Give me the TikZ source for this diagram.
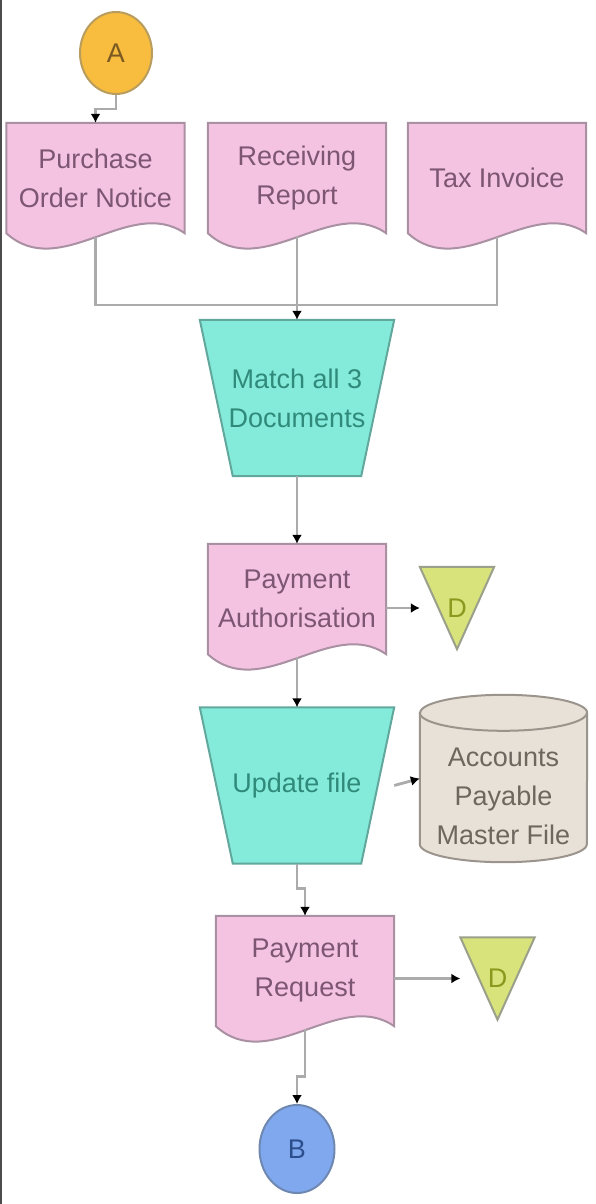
\documentclass[tikz,border=0pt]{standalone}
\usepackage{fontspec}
\setmainfont{Liberation Sans}
\usetikzlibrary{shapes.geometric,arrows.meta,backgrounds}

\definecolor{docfill}{HTML}{F5C3E2}
\definecolor{docdraw}{HTML}{A990A2}
\definecolor{doctext}{HTML}{7C5672}
\definecolor{procfill}{HTML}{84EBDB}
\definecolor{procdraw}{HTML}{62A79C}
\definecolor{proctext}{HTML}{2F8A7A}
\definecolor{mergefill}{HTML}{D8E37C}
\definecolor{mergedraw}{HTML}{9AA08A}
\definecolor{mergetext}{HTML}{8A9A1E}
\definecolor{storefill}{HTML}{E8E1D7}
\definecolor{storedraw}{HTML}{9B948C}
\definecolor{storetext}{HTML}{6E675F}
\definecolor{afill}{HTML}{F8BC3E}
\definecolor{adraw}{HTML}{B89D5E}
\definecolor{atext}{HTML}{7A5A22}
\definecolor{bfill}{HTML}{80A8EE}
\definecolor{bdraw}{HTML}{6E88B2}
\definecolor{btext}{HTML}{2D4E8C}
\definecolor{linegrey}{HTML}{ABABAB}

\tikzset{
  doc/.style={rectangle, minimum width=178pt, minimum height=110pt, inner sep=1pt, align=center, text=doctext},
  docline/.style={draw=docdraw, fill=docfill, line width=2pt},
  proc/.style={rectangle, minimum width=194pt, minimum height=156pt, inner sep=1pt, align=center, text=proctext},
  procline/.style={draw=procdraw, fill=procfill, line width=2pt},
  merge/.style={rectangle, minimum width=74pt, minimum height=82pt, inner sep=0pt, text=mergetext},
  mergeline/.style={draw=mergedraw, fill=mergefill, line width=2pt},
  store/.style={rectangle, minimum width=167pt, minimum height=131pt, inner sep=1pt, align=center, text=storetext},
  storeline/.style={draw=storedraw, fill=storefill, line width=2pt},
  onpage/.style={ellipse, line width=2pt, inner sep=0pt},
  line/.style={draw=linegrey, line width=2.8pt},
  conn/.style={line, -{Latex[length=9pt,width=10pt,black]}}
}

\begin{document}
\begin{tikzpicture}[x=1pt, y=1pt, font=\fontsize{27}{39}\selectfont]
\useasboundingbox (0,0) rectangle (596,-1204);
% bord gauche
\draw[line width=2pt, black!70] (1,0) -- (1,-1204);

% connecteurs de page
\node[onpage, draw=adraw, fill=afill, text=atext, minimum width=72pt, minimum height=82pt] (A) at (116,-53) {A};
\node[onpage, draw=bdraw, fill=bfill, text=btext, minimum width=75pt, minimum height=88pt] (B) at (297,-1149) {B};

% documents
\node[doc] (po) at (95.5,-178) {Purchase\\Order Notice};
\node[doc] (rr) at (297,-178) {Receiving\\Report};
\node[doc] (ti) at (497,-178) {Tax Invoice};
\node[doc] (pa) at (297,-599) {Payment\\Authorisation};
\node[doc] (pr) at (305,-971) {Payment\\Request};

% traitements
\node[proc] (m3) at (297,-398) {Match all 3\\Documents};
\node[proc] (uf) at (297,-785.5) {Update file};

% fichiers
\node[merge] (d1) at (457,-608) {D};
\node[merge] (d2) at (497.5,-978.5) {D};
\node[store] (amf) at (503.5,-796.5) {Accounts\\Payable\\Master File};

% contours
\begin{scope}[on background layer]
  \foreach \n in {po,rr,ti,pa,pr}
    \draw[docline] (\n.north west) -- (\n.north east) -- (\n.south east) .. controls +(-55,38) and +(54,-49) .. (\n.south west) -- cycle;
  \foreach \n in {m3,uf}
    \draw[procline] (\n.north west) -- (\n.north east) -- ([xshift=-33pt]\n.south east) -- ([xshift=33pt]\n.south west) -- cycle;
  \foreach \n in {d1,d2}
    \draw[mergeline] (\n.north west) -- (\n.north east) -- (\n.south) -- cycle;
  \draw[storeline] ([yshift=18pt]amf.north west) -- ([yshift=18pt]amf.south west) arc[start angle=180, end angle=360, x radius=83.5pt, y radius=18pt] -- ([yshift=18pt]amf.north east) arc[start angle=0, end angle=180, x radius=83.5pt, y radius=18pt] -- cycle;
  \draw[storeline, fill=none] ([yshift=18pt]amf.north west) arc[start angle=180, end angle=360, x radius=83.5pt, y radius=18pt];
\end{scope}

% fleches
\coordinate (jn) at (297,-305);
\draw[conn] (A.south) -- ++(0,-14) -| (po.north);
\draw[line] ([yshift=-4pt]po.south) |- (jn);
\draw[line] ([yshift=-4pt]ti.south) |- (jn);
\draw[line] ([yshift=-3pt]rr.south) -- (jn);
\draw[conn] (jn) -- (m3.north);
\draw[conn] (m3.south) -- (pa.north);
\draw[conn] (d1.west -| pa.east) -- (d1.west);
\draw[conn] ([yshift=-3pt]pa.south) -- (uf.north);
\draw[conn] (uf.east) -- ([yshift=18pt]amf.west);
\draw[conn] (uf.south) -- ++(0,-25) -| (pr.north);
\draw[conn] (d2.west -| pr.east) -- (d2.west);
\draw[conn] ([yshift=-3pt]pr.south) -- ++(0,-47) -| (B.north);
\end{tikzpicture}
\end{document}
